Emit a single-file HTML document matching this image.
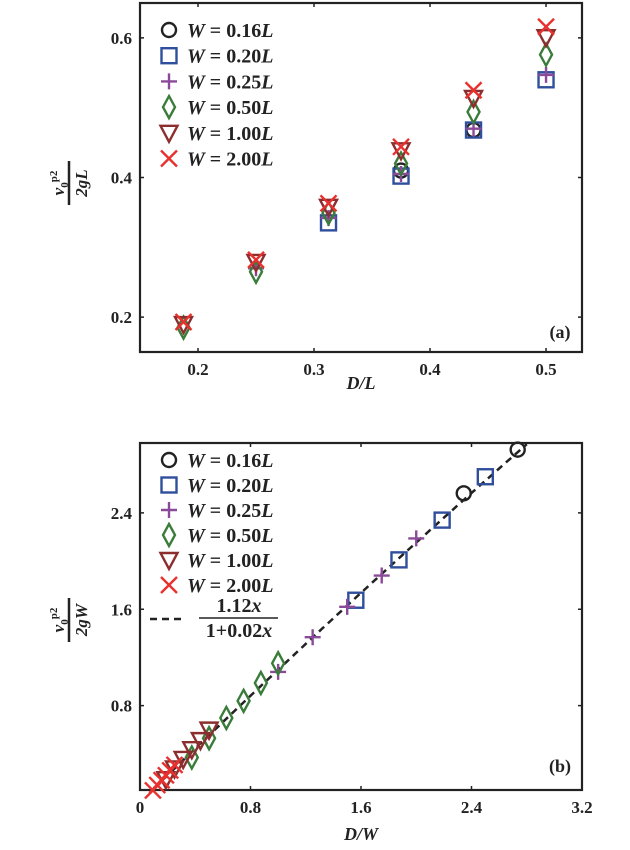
<!DOCTYPE html>
<html><head><meta charset="utf-8"><style>
html,body{margin:0;padding:0;background:#fff;}
svg{display:block;font-family:"Liberation Serif",serif;}
.tk{font-size:17px;font-weight:bold;fill:#222;}
.lg{font-size:20px;fill:#222;font-weight:bold;}
</style></head><body>
<svg id="chart" width="630" height="850" viewBox="0 0 630 850" xmlns="http://www.w3.org/2000/svg">
</svg>
<script>
// Panel (a) data: x = D/L, y = v0^2/(2gL)
const widths = [0.16, 0.20, 0.25, 0.50, 1.00, 2.00];
const xW016 = [0.375, 0.4375];
const yW016 = [0.410, 0.468];
const xW020 = [0.3125, 0.375, 0.4375, 0.5];
const yW020 = [0.335, 0.402, 0.468, 0.540];
const xW025 = [0.25, 0.3125, 0.375, 0.4375, 0.5];
const yW025 = [0.270, 0.342, 0.405, 0.470, 0.547];
const xW050 = [0.1875, 0.25, 0.3125, 0.375, 0.4375, 0.5];
const yW050 = [0.185, 0.265, 0.349, 0.420, 0.494, 0.576];
const xW100 = [0.1875, 0.25, 0.3125, 0.375, 0.4375, 0.5];
const yW100 = [0.190, 0.279, 0.358, 0.439, 0.514, 0.601];
const xW200 = [0.1875, 0.25, 0.3125, 0.375, 0.4375, 0.5];
const yW200 = [0.193, 0.282, 0.363, 0.444, 0.525, 0.616];
const xTicksA = [0.2, 0.3, 0.4, 0.5];
const yTicksA = [0.2, 0.4, 0.6];
const xTicksB = [0, 0.8, 1.6, 2.4, 3.2];
const yTicksB = [0.8, 1.6, 2.4];
const fitA = 1.12, fitB = 0.02;

const NS = "http://www.w3.org/2000/svg";
const svg = document.getElementById("chart");
function el(tag, attrs, parent, text){
  const e = document.createElementNS(NS, tag);
  for (const k in attrs) e.setAttribute(k, attrs[k]);
  if (text !== undefined) e.textContent = text;
  (parent||svg).appendChild(e);
  return e;
}
const colors = ["#222222","#2f4f9c","#8a4a99","#3a7d3a","#8c2e2e","#e8312e"];
const kinds = ["circle","square","plus","diamond","tri","x"];
const seriesX = [xW016,xW020,xW025,xW050,xW100,xW200];
const seriesY = [yW016,yW020,yW025,yW050,yW100,yW200];

function marker(kind, cx, cy, color, g){
  const st = {stroke:color, "stroke-width":2.4, fill:"none"};
  let m;
  if (kind==="circle") m = el("circle", Object.assign({cx:cx, cy:cy, r:7}, st), g);
  else if (kind==="square") m = el("rect", Object.assign({x:cx-7.5, y:cy-7.5, width:15, height:15}, st), g);
  else if (kind==="plus") m = el("path", Object.assign({d:`M${cx-8} ${cy}H${cx+8}M${cx} ${cy-8}V${cy+8}`}, st), g);
  else if (kind==="diamond") m = el("path", Object.assign({d:`M${cx} ${cy-11}L${cx+6} ${cy}L${cx} ${cy+11}L${cx-6} ${cy}Z`}, st), g);
  else if (kind==="tri") m = el("path", Object.assign({d:`M${cx-8.5} ${cy-7}H${cx+8.5}L${cx} ${cy+9}Z`}, st), g);
  else m = el("path", Object.assign({d:`M${cx-8} ${cy-8}L${cx+8} ${cy+8}M${cx+8} ${cy-8}L${cx-8} ${cy+8}`}, st), g);
  return m;
}

function axes(box, xr, yr, xt, yt, xfmt, yfmt, name){
  const g = el("g", {}, svg);
  
  
  const X = v => box.l + (v - xr[0])/(xr[1]-xr[0])*(box.r-box.l);
  const Y = v => box.b - (v - yr[0])/(yr[1]-yr[0])*(box.b-box.t);
  el("rect", {x:box.l, y:box.t, width:box.r-box.l, height:box.b-box.t, fill:"none", stroke:"#222", "stroke-width":2.2}, g);
  xt.forEach(v=>{
    const x = X(v);
    el("path", {d:`M${x} ${box.b}v-4M${x} ${box.t}v4`, stroke:"#222", "stroke-width":1.5}, g);
    const t = el("text", {x:x, y:box.b+23, "text-anchor":"middle", class:"tk"}, g, xfmt(v));
    
    
  });
  yt.forEach(v=>{
    const y = Y(v);
    el("path", {d:`M${box.l} ${y}h4M${box.r} ${y}h-4`, stroke:"#222", "stroke-width":1.5}, g);
    const t = el("text", {x:box.l-8, y:y+6, "text-anchor":"end", class:"tk"}, g, yfmt(v));
    
    
  });
  return {X, Y, g};
}

function legend(x0, y0, dy, g){
  const lg = el("g", {}, g);
  
  
  widths.forEach((w,i)=>{
    const y = y0 + i*dy;
    const e = el("g", {}, lg);
    
    
    marker(kinds[i], x0, y, colors[i], e);
    const t = el("text", {x:x0+18, y:y+7, class:"lg"}, e);
    el("tspan", {"font-style":"italic"}, t, "W");
    el("tspan", {}, t, " = " + w.toFixed(2));
    el("tspan", {"font-style":"italic"}, t, "L");
  });
  return lg;
}

function yTitle(cx, cy, denom, g){
  const t = el("g", {transform:`translate(${cx},${cy}) rotate(-90)`}, g);
  
  
  el("line", {x1:-22, x2:22, y1:0, y2:0, stroke:"#222", "stroke-width":2.5}, t);
  const n = el("text", {x:0, y:-5, "text-anchor":"middle", "font-size":17, "font-weight":"bold", fill:"#222"}, t);
  el("tspan", {"font-style":"italic"}, n, "v");
  el("tspan", {dy:4, "font-size":11}, n, "0");
  el("tspan", {dy:-11, "font-size":11}, n, "p2");
  el("text", {x:0, y:18, "text-anchor":"middle", "font-size":17, "font-weight":"bold", "font-style":"italic", fill:"#222"}, t, denom);
}

// Panel (a)
const A = axes({l:140, r:582, t:3, b:352}, [0.15, 0.531], [0.15, 0.65], xTicksA, yTicksA,
  v=>v.toFixed(1), v=>v.toFixed(1), "panel-a");
seriesX.forEach((xs,i)=>{
  const g = el("g", {}, A.g);
  
  
  xs.forEach((x,j)=>{
    const m = marker(kinds[i], A.X(x), A.Y(seriesY[i][j]), colors[i], g);
    
    
  });
});
legend(169, 30, 25.7, A.g);
yTitle(69, 183, "2gL", A.g);
(function(){
  const t = el("text", {x:361, y:389, "text-anchor":"middle", "font-size":18, "font-weight":"bold", "font-style":"italic", fill:"#222"}, A.g, "D/L");
  
  
  const p = el("text", {x:560, y:338, "text-anchor":"middle", "font-size":18, "font-weight":"bold", fill:"#222"}, A.g, "(a)");
  
  
})();

// Panel (b): x = D/W, y = v0^2/(2gW)
const B = axes({l:140, r:582, t:443, b:790}, [0, 3.2], [0.1, 2.98], xTicksB, yTicksB,
  v=>(v===0?"0":v.toFixed(1)), v=>v.toFixed(1), "panel-b");
(function(){
  let d = "";
  const n = 80, x0 = 0.1, x1 = 2.8;
  for (let k=0;k<=n;k++){
    const x = x0 + (x1-x0)*k/n;
    const y = fitA*x/(1+fitB*x);
    d += (k?"L":"M") + B.X(x).toFixed(1) + " " + B.Y(y).toFixed(1);
  }
  const p = el("path", {d:d, stroke:"#222", "stroke-width":2.5, fill:"none", "stroke-dasharray":"7 5"}, B.g);
  
  
})();
seriesX.forEach((xs,i)=>{
  const g = el("g", {}, B.g);
  
  
  xs.forEach((x,j)=>{
    const m = marker(kinds[i], B.X(x/widths[i]), B.Y(seriesY[i][j]/widths[i]), colors[i], g);
    
    
  });
});
legend(169, 460, 25, B.g);
(function(){
  const g = el("g", {}, B.g);
  
  
  el("line", {x1:150, x2:184, y1:619, y2:619, stroke:"#222", "stroke-width":2.5, "stroke-dasharray":"7 5"}, g);
  el("line", {x1:199, x2:278, y1:618, y2:618, stroke:"#222", "stroke-width":1.5}, g);
  const n = el("text", {x:239, y:612, "text-anchor":"middle", class:"lg"}, g, "1.12");
  el("tspan", {"font-style":"italic"}, n, "x");
  const d = el("text", {x:239, y:637, "text-anchor":"middle", class:"lg"}, g, "1+0.02");
  el("tspan", {"font-style":"italic"}, d, "x");
})();
yTitle(69, 620, "2gW", B.g);
(function(){
  const t = el("text", {x:361, y:840, "text-anchor":"middle", "font-size":18, "font-weight":"bold", "font-style":"italic", fill:"#222"}, B.g, "D/W");
  
  
  const p = el("text", {x:560, y:772, "text-anchor":"middle", "font-size":18, "font-weight":"bold", fill:"#222"}, B.g, "(b)");
  
  
})();
</script>
</body></html>
